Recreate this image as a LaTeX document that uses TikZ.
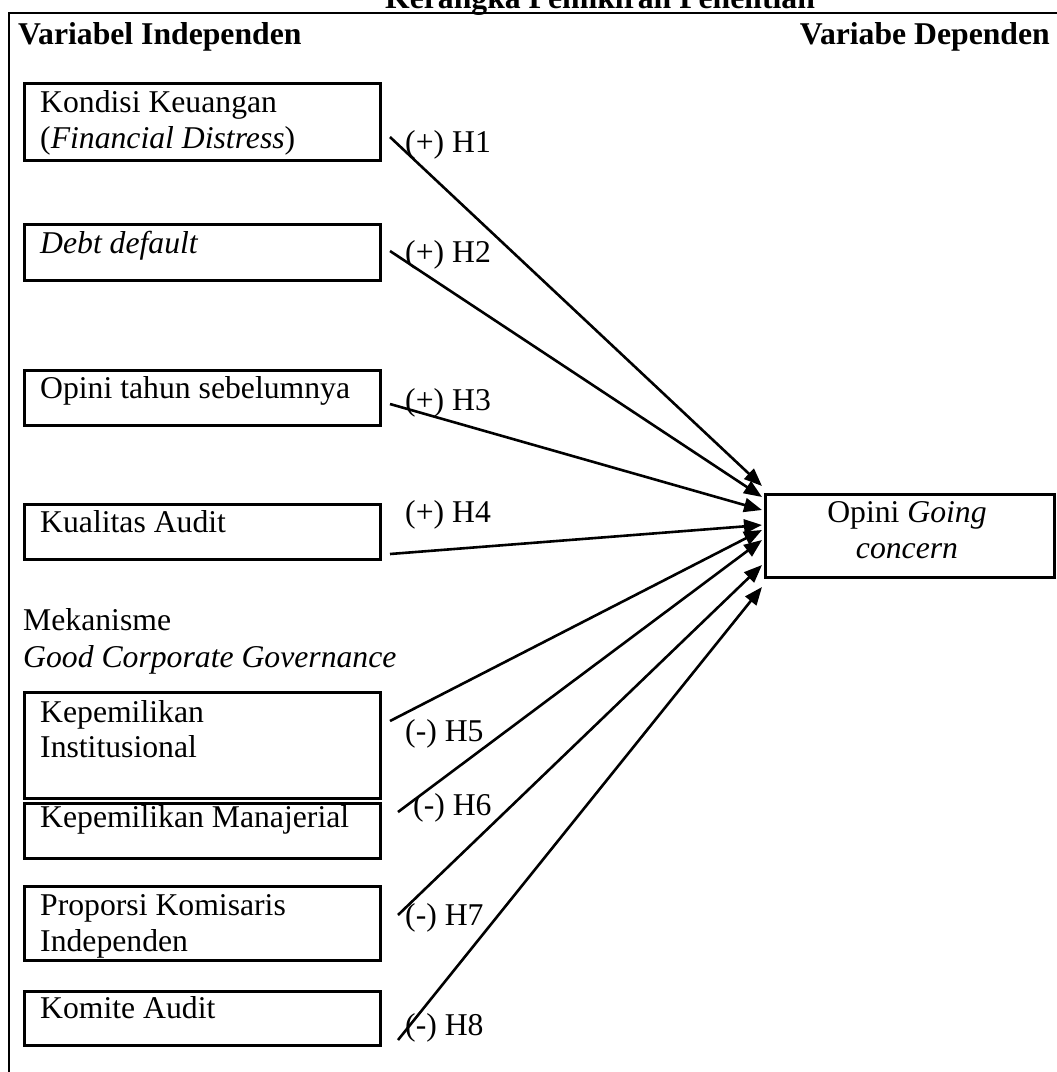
\documentclass[tikz,border=0pt]{standalone}
\usepackage{fontspec}
\setmainfont{Liberation Serif}
\usetikzlibrary{arrows.meta}
\begin{document}
\begin{tikzpicture}[x=1pt,y=-1pt,
  font=\fontsize{31.7pt}{36pt}\selectfont,
  box/.style={draw, line width=2.5pt, minimum width=356pt, anchor=north west, inner sep=0pt},
  txt/.style={anchor=base west, inner sep=0pt},
  arr/.style={line width=2.6pt, -{Triangle[length=18pt,width=14pt]}},
  frame/.style={line width=2.8pt}
  ]
\useasboundingbox (0,0) rectangle (1057,1072);
% frame
\draw[frame] (9,1080) -- (9,13) -- (1065,13);
% headings
\node[anchor=base, inner sep=0pt, font=\fontsize{31.7pt}{36pt}\selectfont\bfseries] (title) at (600,8) {Kerangka Pemikiran Penelitian};
\node[txt, font=\fontsize{31.7pt}{36pt}\selectfont\bfseries] (hind) at (18,44) {Variabel Independen};
\node[anchor=base east, inner sep=0pt, font=\fontsize{31.7pt}{36pt}\selectfont\bfseries] (hdep) at (1050,44) {Variabe Dependen};
% boxes
\node[box, minimum height=77pt] (b1) at (23,82) {};
\node[box, minimum height=56pt] (b2) at (23,223) {};
\node[box, minimum height=55pt] (b3) at (23,369) {};
\node[box, minimum height=55pt] (b4) at (23,503) {};
\node[box, minimum height=106pt] (b5) at (23,691) {};
\node[box, minimum height=55pt] (b6) at (23,802) {};
\node[box, minimum height=74pt] (b7) at (23,885) {};
\node[box, minimum height=54pt] (b8) at (23,990) {};
\node[box, minimum width=289pt, minimum height=83pt] (target) at (764,493) {};
% box texts
\node[txt] (t1a) at (40,112) {Kondisi Keuangan};
\node[txt] (t1b) at (40,148) {(\textit{Financial Distress})};
\node[txt] (t2) at (40,253) {\textit{Debt default}};
\node[txt] (t3) at (40,398) {Opini tahun sebelumnya};
\node[txt] (t4) at (40,532) {Kualitas Audit};
\node[txt] (m1) at (23,630) {Mekanisme};
\node[txt] (m2) at (23,667) {\textit{Good Corporate Governance}};
\node[txt] (t5a) at (40,722) {Kepemilikan};
\node[txt] (t5b) at (40,757) {Institusional};
\node[txt] (t6) at (40,827) {Kepemilikan Manajerial};
\node[txt] (t7a) at (40,915) {Proporsi Komisaris};
\node[txt] (t7b) at (40,951) {Independen};
\node[txt] (t8) at (40,1018) {Komite Audit};
\node[anchor=base, inner sep=0pt] (ta) at (907,522) {Opini \textit{Going}};
\node[anchor=base, inner sep=0pt] (tb) at (907,558) {\textit{concern}};
% arrow labels
\node[txt] (h1) at (405,152) {(+) H1};
\node[txt] (h2) at (405,262) {(+) H2};
\node[txt] (h3) at (405,410) {(+) H3};
\node[txt] (h4) at (405,522) {(+) H4};
\node[txt] (h5) at (405,741) {(-) H5};
\node[txt] (h6) at (413,815) {(-) H6};
\node[txt] (h7) at (405,925) {(-) H7};
\node[txt] (h8) at (405,1035) {(-) H8};
% arrow ends
\coordinate (s1) at (390,137);  \coordinate (e1) at (762,486);
\coordinate (s2) at (390,251);  \coordinate (e2) at (762,497);
\coordinate (s3) at (390,404);  \coordinate (e3) at (762,510);
\coordinate (s4) at (390,554);  \coordinate (e4) at (762,525);
\coordinate (s5) at (390,721);  \coordinate (e5) at (762,530);
\coordinate (s6) at (398,812);  \coordinate (e6) at (762,540);
\coordinate (s7) at (398,915);  \coordinate (e7) at (762,565);
\coordinate (s8) at (398,1040); \coordinate (e8) at (762,587);
\foreach \i in {1,...,8} {\draw[arr] (s\i) -- (e\i);}
\end{tikzpicture}
\end{document}
